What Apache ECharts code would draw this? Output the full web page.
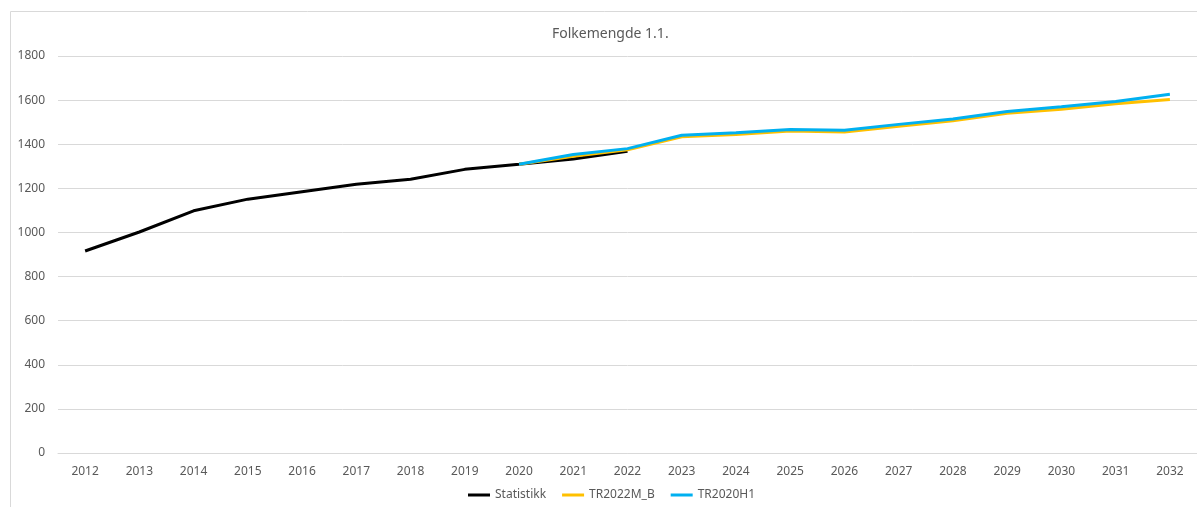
<!DOCTYPE html>
<html lang="no">
<head>
    <meta charset="UTF-8">
    <title>Folkemengde 1.1.</title>
    <script src="https://cdn.jsdelivr.net/npm/echarts@6/dist/echarts.min.js"></script>
</head>
<style type="text/css">
    html,body,#chart{
        width: 100%;
        height: 100%;
        margin: 0;
        padding: 0;
        background: #fff;
    }
</style>
<body>
<div id="chart"></div>
<script>
    var years = ['2012','2013','2014','2015','2016','2017','2018','2019','2020','2021','2022',
        '2023','2024','2025','2026','2027','2028','2029','2030','2031','2032'];
    var statistikk = [916,1002,1098,1151,1185,1219,1241,1286,1309,1333,1368];
    var tr2022mb = [null,null,null,null,null,null,null,null,1309,1345,1375,
        1434,1444,1460,1455,1482,1506,1540,1559,1583,1603];
    var tr2020h1 = [null,null,null,null,null,null,null,null,1309,1353,1380,
        1441,1452,1467,1463,1490,1514,1548,1570,1594,1627];

    var font = 'Noto Sans';
    var myChart = echarts.init(document.getElementById('chart'));
    function lineSeries(name, data, color) {
        return {
            name: name,
            type: 'line',
            data: data,
            symbol: 'none',
            showSymbol: false,
            lineStyle: { width: 3, color: color },
            itemStyle: { color: color },
            connectNulls: false,
            animation: false
        };
    }
    var options = {
        title: {
            text: 'Folkemengde 1.1.',
            left: 547,
            top: 22,
            textStyle: { fontFamily: font, fontSize: 14, fontWeight: 'normal', color: '#595959' }
        },
        graphic: [{
            type: 'rect',
            shape: { x: 10.5, y: 11.5, width: 1200, height: 500 },
            style: { fill: 'none', stroke: '#d9d9d9', lineWidth: 1 },
            silent: true
        }],
        legend: {
            bottom: 1,
            left: 463,
            itemWidth: 22,
            itemHeight: 3,
            itemGap: 16,
            icon: 'rect',
            textStyle: { fontFamily: font, fontSize: 12, color: '#595959' },
            data: ['Statistikk', 'TR2022M_B', 'TR2020H1']
        },
        grid: { left: 58, right: -1, top: 56, bottom: 54, containLabel: false },
        xAxis: {
            type: 'category',
            data: years,
            boundaryGap: true,
            axisLine: { lineStyle: { color: '#d9d9d9' } },
            axisTick: { show: false },
            axisLabel: { fontFamily: font, fontSize: 12, color: '#595959', margin: 13 }
        },
        yAxis: {
            type: 'value',
            min: 0,
            max: 1800,
            interval: 200,
            axisLine: { show: false },
            axisTick: { show: false },
            axisLabel: {
                fontFamily: font, fontSize: 12, color: '#595959', margin: 13,
                formatter: function (v) { return String(v); }
            },
            splitLine: { lineStyle: { color: '#d9d9d9' } }
        },
        series: [
            lineSeries('Statistikk', statistikk, '#000000'),
            lineSeries('TR2022M_B', tr2022mb, '#FFC000'),
            lineSeries('TR2020H1', tr2020h1, '#00B0F0')
        ]
    };
    myChart.setOption(options);
</script>
</body>
</html>
